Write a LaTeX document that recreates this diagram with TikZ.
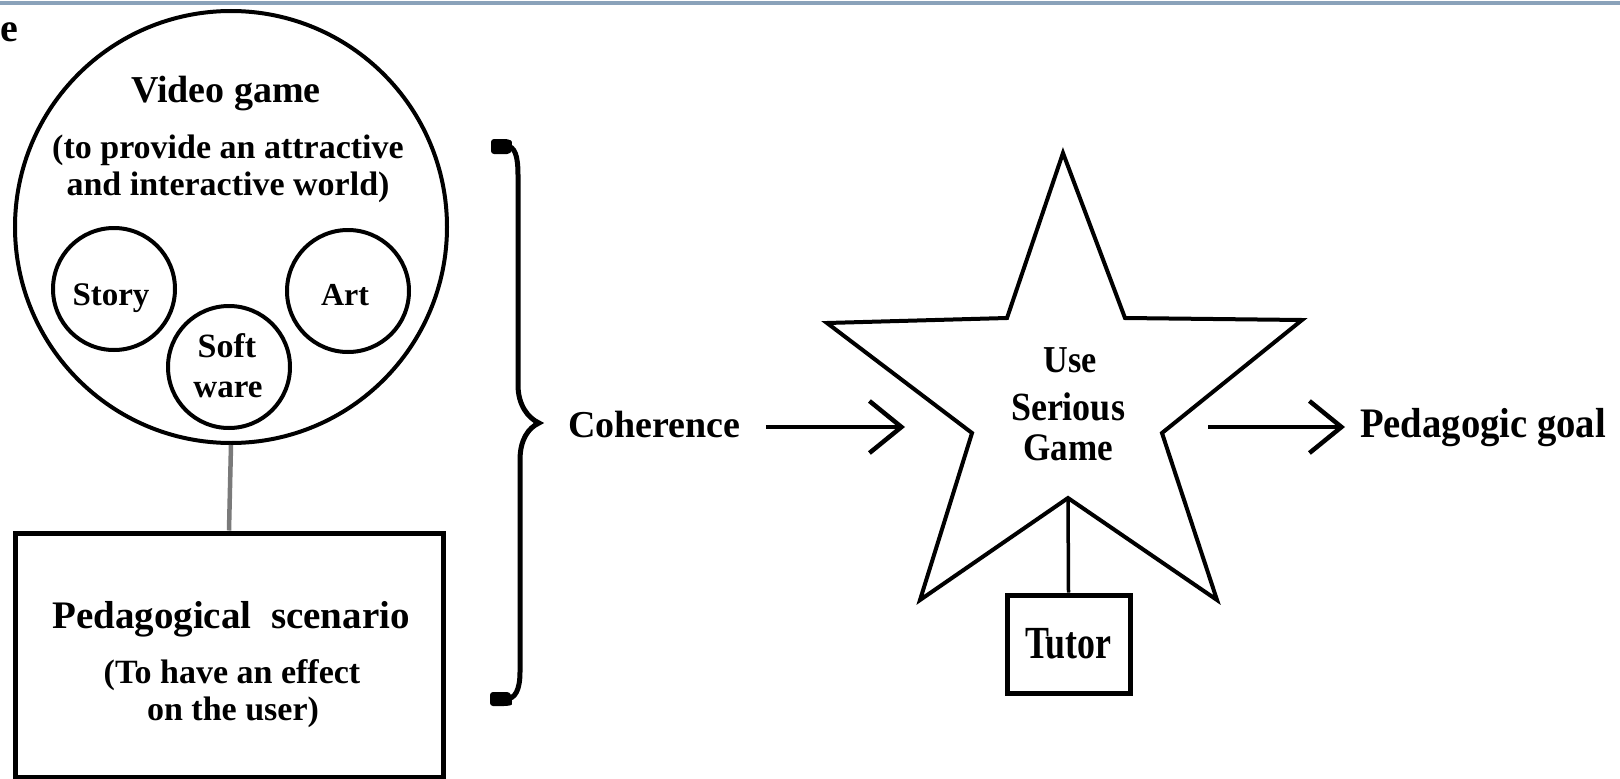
\documentclass[tikz,border=0pt]{standalone}
\usepackage{fontspec}
\setmainfont{Liberation Serif}
\usepackage{graphicx}
\usetikzlibrary{arrows.meta}
\definecolor{topblue}{HTML}{8AA2BA}
\definecolor{linkgray}{HTML}{7A7A7A}
\newcommand{\myfs}[1]{\fontsize{#1}{#1}\selectfont}
\tikzset{
  txt/.style={inner sep=0pt, anchor=base},
  circ/.style={circle, draw, line width=4pt, inner sep=0pt},
  boxn/.style={rectangle, draw, line width=5pt, inner sep=0pt},
  arr/.style={line width=4.5pt, -{Straight Barb[length=32pt,width=52pt]}},
  starline/.style={line width=4pt, line join=miter},
  bracel/.style={line width=5pt},
}
\begin{document}
\begin{tikzpicture}[x=1pt,y=-1pt]
\useasboundingbox (0,0) rectangle (1620,779);
\fill[topblue] (0,1) rectangle (1620,4.5);

% cut-off letter
\node[txt, anchor=base east, font=\bfseries\myfs{40}] (cut) at (18,41) {e};

% video game circle
\node[circ, minimum size=432pt] (vg) at (231,227) {};
\node[txt, font=\bfseries\myfs{38}] (vgt) at (226,102) {Video game};
\node[txt, font=\bfseries\myfs{34}] (vgl1) at (228,158) {(to provide an attractive};
\node[txt, font=\bfseries\myfs{34}] (vgl2) at (228,195) {and interactive world)};

\node[circ, minimum size=122pt] (story) at (114,289) {};
\node[txt, font=\bfseries\myfs{33}] (storyt) at (111,305) {Story};
\node[circ, minimum size=122pt] (art) at (348,291) {};
\node[txt, font=\bfseries\myfs{32}] (artt) at (345,305) {Art};
\node[circ, minimum size=122pt] (soft) at (229,367) {};
\node[txt, font=\bfseries\myfs{34}] (softt1) at (227,357) {Soft};
\node[txt, font=\bfseries\myfs{33}] (softt2) at (228,397) {ware};

% pedagogical scenario box
\node[boxn, minimum width=428pt, minimum height=244pt] (ped) at (229,655) {};
\node[txt, font=\bfseries\myfs{39}] (pedt) at (231,628) {Pedagogical\hspace{0.5em}scenario};
\node[txt, font=\bfseries\myfs{34}] (pedl1) at (232,683) {(To have an effect};
\node[txt, font=\bfseries\myfs{34}] (pedl2) at (233,720) {on the user)};

\draw[line width=4.5pt, linkgray] (vg.south) -- (ped.north);

% brace
\draw[bracel] (497,146) -- (506,146) .. controls (515,146) and (518,156) .. (518,175)
  -- (518,385) .. controls (518,405) and (528,418) .. (539,423)
  .. controls (528,428) and (520,440) .. (520,460)
  -- (520,672) .. controls (520,690) and (515,699) .. (506,699) -- (497,699);
\fill[rounded corners=3pt] (491,139) -- (508,139) .. controls (512,141) .. (512,150) -- (510,154) -- (491,154) -- cycle;
\fill[rounded corners=3pt] (490,692) -- (510,692) -- (512,698) .. controls (512,705) .. (507,706) -- (490,706) -- cycle;

% coherence
\node[txt, anchor=base west, font=\bfseries\myfs{38}] (coh) at (568,437) {Coherence};

% star
\coordinate (s1) at (1063,153);
\coordinate (s2) at (1125,318);
\coordinate (s3) at (1302,320);
\coordinate (s4) at (1162,433);
\coordinate (s5) at (1217,600);
\coordinate (sb) at (1068,498);
\coordinate (s7) at (920,600);
\coordinate (s8) at (972,433);
\coordinate (s9) at (827,323);
\coordinate (s10) at (1007,318);
\draw[starline] (s1) -- (s2) -- (s3) -- (s4) -- (s5) -- (sb) -- (s7) -- (s8) -- (s9) -- (s10) -- cycle;
\node[txt, font=\bfseries\myfs{38}] (use) at (1070,372) {\scalebox{0.9}[1]{Use}};
\node[txt, font=\bfseries\myfs{40}] (ser) at (1068,420) {\scalebox{0.9}[1]{Serious}};
\node[txt, font=\bfseries\myfs{39}] (gam) at (1068,460) {\scalebox{0.9}[1]{Game}};

% tutor
\node[boxn, minimum width=123pt, minimum height=98pt, font=\bfseries\myfs{46}] (tutor) at (1068.5,644) {\scalebox{0.78}[1]{Tutor}};
\draw[line width=3.5pt] (sb) -- (tutor.north);

% arrows
\coordinate (cohEnd) at (905,427);
\draw[arr, shorten <=25pt] (coh.east |- cohEnd) -- (cohEnd);
\node[txt, anchor=base west, font=\bfseries\myfs{42}] (goal) at (1360,437) {\scalebox{0.92}[1]{Pedagogic goal}};
\coordinate (goalStart) at (1208,427);
\draw[arr, shorten >=15pt] (goalStart) -- (goal.west |- goalStart);
\end{tikzpicture}
\end{document}
